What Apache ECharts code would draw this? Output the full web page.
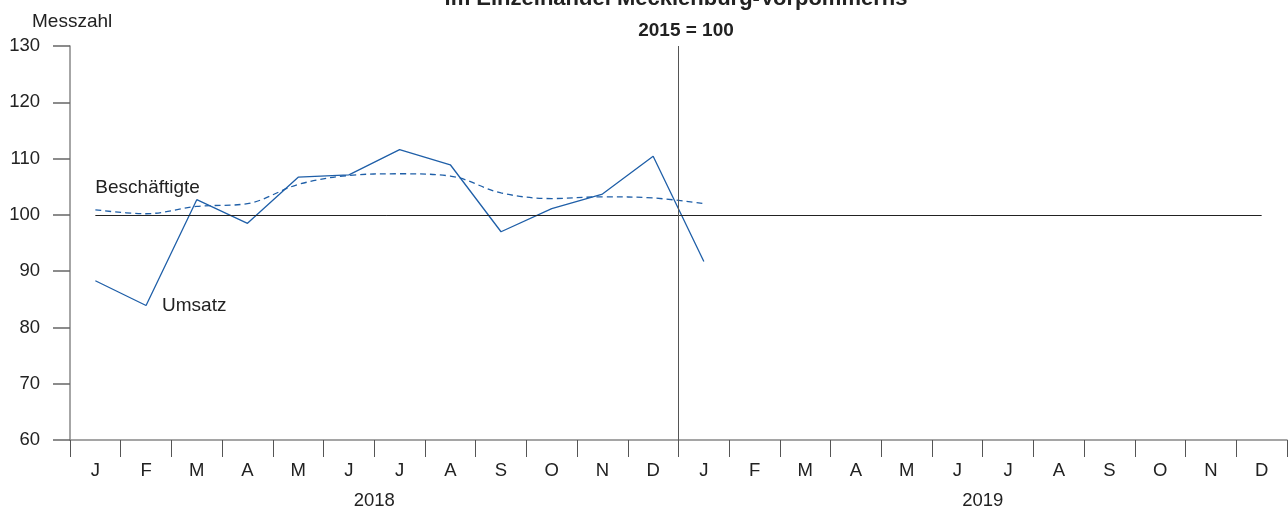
<!DOCTYPE html>
<html>
<head>
<meta charset="utf-8">
<script src="https://cdn.jsdelivr.net/npm/echarts@6/dist/echarts.min.js"></script>
<style>html,body{margin:0;padding:0;background:#fff}#c{width:1288px;height:510px}</style>
</head>
<body>
<div id="c"></div>
<script>
const months = ['J','F','M','A','M','J','J','A','S','O','N','D','J','F','M','A','M','J','J','A','S','O','N','D'];
const years = ['2018','2019'];
const umsatz = [88.3, 83.9, 102.7, 98.5, 106.7, 107.1, 111.6, 108.9, 97.0, 101.1, 103.7, 110.4, 91.7];
const beschaeftigte = [100.9, 100.2, 101.5, 102.0, 105.4, 107.0, 107.3, 106.9, 103.9, 102.9, 103.2, 103.0, 102.0];
const yTicks = [60, 130, 10];
const baseline = 100;
const titleLines = ['im Einzelhandel Mecklenburg-Vorpommerns', '2015 = 100'];
const unitLabel = 'Messzahl';

const cats = months.map((m, i) => i + ':' + m);
const yearBoundary = months.length / years.length;
const blue = '#1f5fa8';
const font = 'Liberation Sans, Arial, sans-serif';
const fs = 18.5;

const chart = echarts.init(document.getElementById('c'), null, {renderer: 'canvas'});
chart.setOption({
  animation: false,
  backgroundColor: '#fff',
  grid: {left: 70, right: 1, top: 46, bottom: 70, containLabel: false},
  title: [
    {text: titleLines[0], left: 671, top: -17, textAlign: 'center',
     textStyle: {fontFamily: font, fontSize: 22, fontWeight: 'bold', color: '#222'}},
    {text: titleLines[1], left: 681, top: 16, textAlign: 'center',
     textStyle: {fontFamily: font, fontSize: 19, fontWeight: 'bold', color: '#222'}},
    {text: unitLabel, left: 27, top: 7,
     textStyle: {fontFamily: font, fontSize: 19, fontWeight: 'normal', color: '#222'}}
  ],
  xAxis: [
    {
      type: 'category', data: cats, boundaryGap: true, position: 'bottom',
      axisLine: {show: true, lineStyle: {color: '#888', width: 1.5}},
      axisTick: {show: true, length: 17, alignWithLabel: false, lineStyle: {color: '#555', width: 1}},
      axisLabel: {margin: 21, fontFamily: font, fontSize: fs, color: '#222',
        formatter: v => v.split(':')[1]},
      splitLine: {show: false}
    },
    {
      type: 'category', data: years, boundaryGap: true, position: 'bottom',
      axisLine: {show: false}, axisTick: {show: false},
      axisLabel: {margin: 51, fontFamily: font, fontSize: fs, color: '#222'},
      splitLine: {show: false}
    },
    {
      type: 'value', min: 0, max: months.length, show: false, position: 'top'
    }
  ],
  yAxis: {
    type: 'value', min: yTicks[0], max: yTicks[1], interval: yTicks[2],
    axisLine: {show: true, lineStyle: {color: '#888', width: 1.5}},
    axisTick: {show: true, length: 17, lineStyle: {color: '#666', width: 1.5}},
    axisLabel: {margin: 30, fontFamily: font, fontSize: fs, color: '#222'},
    splitLine: {show: false}
  },
  series: [
    {
      name: 'Umsatz', type: 'line', xAxisIndex: 0, data: umsatz,
      showSymbol: false, symbol: 'none',
      lineStyle: {color: blue, width: 1.3},
      markPoint: {
        symbol: 'circle', symbolSize: 0,
        data: [{coord: [1, umsatz[1]], label: {show: true, formatter: 'Umsatz', position: 'right', offset: [11, 0],
          fontFamily: font, fontSize: 19, color: '#222'}}]
      },
      markLine: {
        silent: true, symbol: 'none', animation: false,
        label: {show: false},
        lineStyle: {color: '#222', width: 1, type: 'solid'},
        data: [[{coord: [0, baseline]}, {coord: [cats.length - 1, baseline]}]]
      }
    },
    {
      name: 'Beschäftigte', type: 'line', xAxisIndex: 0, data: beschaeftigte,
      showSymbol: false, symbol: 'none', smooth: 0.35,
      lineStyle: {color: blue, width: 1.3, type: [6, 4]},
      markPoint: {
        symbol: 'circle', symbolSize: 0,
        data: [{coord: [0, beschaeftigte[0]], label: {show: true, formatter: 'Beschäftigte', position: 'top', align: 'left', offset: [0, -8],
          fontFamily: font, fontSize: 19, color: '#222'}}]
      }
    },
    {
      name: 'Jahreswechsel', type: 'line', xAxisIndex: 2, data: [],
      markLine: {
        silent: true, symbol: 'none', animation: false,
        label: {show: false},
        lineStyle: {color: '#555', width: 1, type: 'solid'},
        data: [{xAxis: yearBoundary}]
      }
    }
  ]
});
</script>
</body>
</html>
